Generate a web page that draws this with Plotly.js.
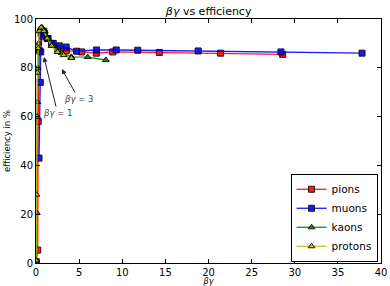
<!DOCTYPE html>
<html>
<head>
<meta charset="utf-8">
<script src="https://cdn.plot.ly/plotly-3.0.1.min.js"></script>
<style>html,body{margin:0;padding:0;background:#fff}#chart{width:390px;height:286px}</style>
</head>
<body>
<div id="chart"></div>
<script>
var pionsX = [0.03, 0.2, 0.25, 0.4, 0.6, 0.9, 1.3, 1.8, 2.5, 3.5, 5.3, 7.0, 8.9, 14.3, 21.4, 28.6];
var pionsY = [0.5, 5.3, 58, 87, 94, 95, 92, 90, 88, 87, 86.5, 86, 86.5, 86.3, 86, 85.5];
var muonsX = [0.35, 0.5, 0.55, 0.7, 1.0, 1.4, 2.0, 2.7, 3.5, 4.7, 7.0, 9.3, 11.8, 18.8, 28.4, 37.8];
var muonsY = [43, 74, 86.5, 93, 94, 92, 90, 89, 88.5, 86.8, 87.3, 87.3, 87.2, 86.9, 86.5, 86];
var kaonsX = [0.03, 0.1, 0.15, 0.2, 0.3, 0.5, 0.7, 1.0, 1.4, 2.0, 3.0, 4.1, 6.0, 8.1];
var kaonsY = [1, 20.5, 66, 80, 90, 96, 96.5, 95, 92, 89, 86, 84.5, 84.4, 83.2];
var protonsX = [0.02, 0.05, 0.1, 0.15, 0.25, 0.4, 0.6, 0.9, 1.3, 1.8, 2.5, 3.2, 4.1];
var protonsY = [1, 28, 60, 78, 88, 95, 96.5, 95, 92, 89, 86.5, 85.2, 84];
var xTicks = [0, 5, 10, 15, 20, 25, 30, 35, 40];
var yTicks = [0, 20, 40, 60, 80, 100];

function tr(name, x, y, color, sym) {
  return {
    x: x, y: y, name: name, type: 'scatter', mode: 'lines+markers',
    line: {color: color, width: 1.3},
    marker: {symbol: sym, size: 6, color: color, line: {color: '#000', width: 1}},
    opacity: 0.9
  };
}
var data = [
  tr('pions', pionsX, pionsY, '#ff0000', 'square'),
  tr('muons', muonsX, muonsY, '#0000ff', 'square'),
  tr('kaons', kaonsX, kaonsY, '#008000', 'triangle-up'),
  tr('protons', protonsX, protonsY, '#bfbf00', 'triangle-up')
];
var axisCommon = {
  showline: true, mirror: 'ticks', linecolor: '#000', linewidth: 1,
  ticks: 'inside', ticklen: 4, tickcolor: '#000', showgrid: false, zeroline: false,
  tickfont: {size: 10, color: '#000', family: 'DejaVu Sans'}
};
var layout = {
  width: 390, height: 286,
  margin: {l: 36, r: 9, t: 19, b: 23},
  paper_bgcolor: '#fff', plot_bgcolor: '#fff',
  font: {family: 'DejaVu Sans', color: '#000'},
  title: {text: '<i>βγ</i> vs efficiency', font: {size: 11, family: 'DejaVu Sans'}, x: 0.535, xanchor: 'center', y: 0.96, yanchor: 'middle'},
  xaxis: Object.assign({}, axisCommon, {range: [0, 40], tickvals: xTicks, ticktext: xTicks.map(String),
    title: {text: '<i>βγ</i>', font: {size: 8}, standoff: 5}}),
  yaxis: Object.assign({}, axisCommon, {range: [0, 100], tickvals: yTicks, ticktext: yTicks.map(String),
    title: {text: 'efficiency in %', font: {size: 8.5}, standoff: 1}}),
  legend: {x: 0.99, xanchor: 'right', y: 0.005, yanchor: 'bottom', bgcolor: '#fff',
    bordercolor: '#000', borderwidth: 1, font: {size: 10.5}, tracegroupgap: 0, itemwidth: 30},
  showlegend: true,
  annotations: [
    {x: 3.0, y: 79.5, xref: 'x', yref: 'y', ax: 4.95, ay: 67.2, axref: 'x', ayref: 'y',
     text: '<i>βγ</i> = 3', showarrow: true, arrowhead: 2, arrowsize: 1, arrowwidth: 1, arrowcolor: '#222',
     font: {size: 8.5, color: '#444'}},
    {x: 0.92, y: 84.4, xref: 'x', yref: 'y', ax: 2.5, ay: 61.5, axref: 'x', ayref: 'y',
     text: '<i>βγ</i> = 1', showarrow: true, arrowhead: 2, arrowsize: 1, arrowwidth: 1, arrowcolor: '#222',
     font: {size: 8.5, color: '#444'}}
  ]
};
Plotly.newPlot('chart', data, layout, {displayModeBar: false, staticPlot: true});
</script>
</body>
</html>
